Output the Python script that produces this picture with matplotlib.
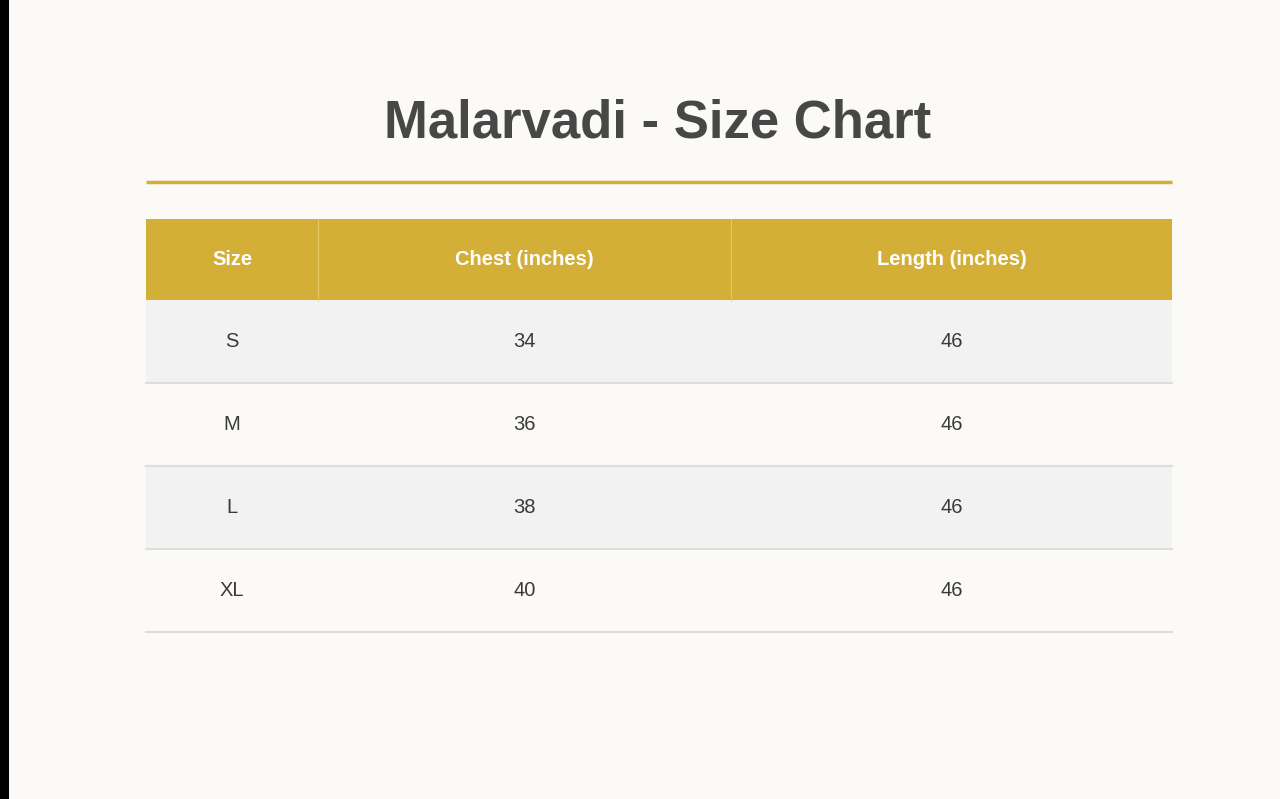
import matplotlib.pyplot as plt
from matplotlib.patches import Rectangle

title = "Malarvadi - Size Chart"
headers = ["Size", "Chest (inches)", "Length (inches)"]
sizes = ["S", "M", "L", "XL"]
chest = [34, 36, 38, 40]
length = [46, 46, 46, 46]

gold = "#d4af37"
bg = "#fbfaf6"
text_col = "#3a3a3a"

plt.rcParams['font.family'] = ['Liberation Sans', 'DejaVu Sans']

fig = plt.figure(figsize=(12.8, 7.99), dpi=100, facecolor=bg)
ax = fig.add_axes([0, 0, 1, 1])
ax.set_xlim(0, 1280)
ax.set_ylim(799, 0)
ax.axis('off')

# dark strip on the left edge
ax.add_patch(Rectangle((0, 0), 9, 799, color='black', lw=0))

ax.text(658, 123, title, ha='center', va='center', fontsize=38,
        fontweight='bold', color='#474747')
ax.plot([146, 1172], [181.5, 181.5], color=gold, lw=2.5, solid_capstyle='butt')

col_edges = [146, 318, 731, 1172]
head_top, head_h, row_h = 219, 81, 83

ax.add_patch(Rectangle((146, head_top), 1026, head_h, color=gold, lw=0))
for x in col_edges[1:-1]:
    ax.plot([x, x], [head_top, head_top + head_h], color='#e3c867', lw=0.8)
for i, h in enumerate(headers):
    cx = (col_edges[i] + col_edges[i + 1]) / 2
    ax.text(cx, head_top + head_h / 2, h, ha='center', va='center',
            fontsize=14.5, fontweight='bold', color='white')

rows = list(zip(sizes, chest, length))
for r, row in enumerate(rows):
    top = head_top + head_h + r * row_h
    fill = '#f2f2f2' if r % 2 == 0 else bg
    ax.add_patch(Rectangle((146, top), 1026, row_h, color=fill, lw=0))
    ax.plot([146, 1172], [top + row_h, top + row_h], color='#dddddd', lw=1.5)
    for i, v in enumerate(row):
        cx = (col_edges[i] + col_edges[i + 1]) / 2
        ax.text(cx, top + row_h / 2, str(v), ha='center', va='center',
                fontsize=14.5, color=text_col)

plt.savefig('out.png', dpi=100, facecolor=bg)
